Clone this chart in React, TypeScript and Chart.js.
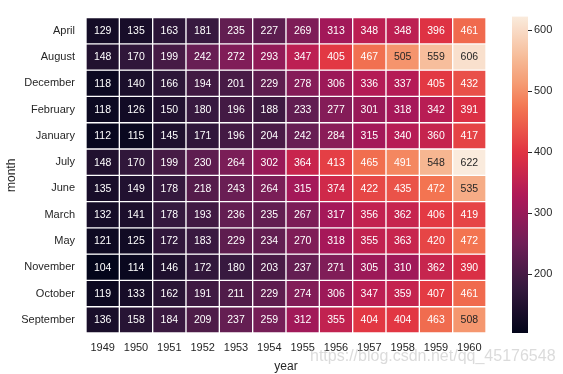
import React, { useEffect, useRef } from "react";
import { Chart, registerables } from "chart.js";

Chart.register(...registerables);

const years = ["1949", "1950", "1951", "1952", "1953", "1954", "1955", "1956", "1957", "1958", "1959", "1960"];
const months = ["April", "August", "December", "February", "January", "July", "June", "March", "May", "November", "October", "September"];

const april = [129, 135, 163, 181, 235, 227, 269, 313, 348, 348, 396, 461];
const august = [148, 170, 199, 242, 272, 293, 347, 405, 467, 505, 559, 606];
const december = [118, 140, 166, 194, 201, 229, 278, 306, 336, 337, 405, 432];
const february = [118, 126, 150, 180, 196, 188, 233, 277, 301, 318, 342, 391];
const january = [112, 115, 145, 171, 196, 204, 242, 284, 315, 340, 360, 417];
const july = [148, 170, 199, 230, 264, 302, 364, 413, 465, 491, 548, 622];
const june = [135, 149, 178, 218, 243, 264, 315, 374, 422, 435, 472, 535];
const march = [132, 141, 178, 193, 236, 235, 267, 317, 356, 362, 406, 419];
const may = [121, 125, 172, 183, 229, 234, 270, 318, 355, 363, 420, 472];
const november = [104, 114, 146, 172, 180, 203, 237, 271, 305, 310, 362, 390];
const october = [119, 133, 162, 191, 211, 229, 274, 306, 347, 359, 407, 461];
const september = [136, 158, 184, 209, 237, 259, 312, 355, 404, 404, 463, 508];

const rows = [april, august, december, february, january, july, june, march, may, november, october, september];
const colorbarTicks = [200, 300, 400, 500, 600];

const rocketStops: [number, number, number, number][] = [
  [0.0, 3, 5, 26],
  [0.143, 53, 25, 62],
  [0.286, 112, 31, 87],
  [0.429, 173, 23, 89],
  [0.571, 225, 51, 66],
  [0.714, 243, 118, 81],
  [0.786, 245, 154, 114],
  [0.857, 246, 182, 145],
  [1.0, 250, 235, 221],
];

function rocket(t: number): [number, number, number] {
  t = Math.max(0, Math.min(1, t));
  for (let i = 1; i < rocketStops.length; i++) {
    const a = rocketStops[i - 1];
    const b = rocketStops[i];
    if (t <= b[0]) {
      const f = (t - a[0]) / (b[0] - a[0]);
      return [a[1] + (b[1] - a[1]) * f, a[2] + (b[2] - a[2]) * f, a[3] + (b[3] - a[3]) * f];
    }
  }
  const l = rocketStops[rocketStops.length - 1];
  return [l[1], l[2], l[3]];
}

const all = rows.flat();
const vmin = Math.min(...all);
const vmax = Math.max(...all);
const norm = (v: number) => (v - vmin) / (vmax - vmin);
const rgb = (c: [number, number, number]) => `rgb(${Math.round(c[0])},${Math.round(c[1])},${Math.round(c[2])})`;
const lum = (c: [number, number, number]) => {
  const f = (x: number) => {
    const s = x / 255;
    return s <= 0.03928 ? s / 12.92 : Math.pow((s + 0.055) / 1.055, 2.4);
  };
  return 0.2126 * f(c[0]) + 0.7152 * f(c[1]) + 0.0722 * f(c[2]);
};

const FONT = "'Liberation Sans', Arial, sans-serif";
const TEXT = "#262626";

const annotPlugin = {
  id: "annot",
  afterDatasetsDraw(chart: any) {
    const ctx = chart.ctx;
    ctx.save();
    ctx.font = `10.5px ${FONT}`;
    ctx.textAlign = "center";
    ctx.textBaseline = "middle";
    chart.data.datasets.forEach((ds: any, di: number) => {
      const meta = chart.getDatasetMeta(di);
      meta.data.forEach((el: any, i: number) => {
        const v = rows[di][i];
        const c = rocket(norm(v));
        ctx.fillStyle = lum(c) > 0.408 ? TEXT : "#ffffff";
        const cx = el.x;
        const cy = (el.y + el.base) / 2;
        ctx.fillText(String(v), cx, cy + 0.5);
      });
    });
    ctx.restore();
  },
  afterDraw(chart: any) {
    const ctx = chart.ctx;
    const area = chart.chartArea;
    const x0 = 512;
    const w = 16;
    const top = area.top - 1;
    const bottom = area.bottom;
    ctx.save();
    const g = ctx.createLinearGradient(0, bottom, 0, top);
    for (let i = 0; i <= 50; i++) {
      g.addColorStop(i / 50, rgb(rocket(i / 50)));
    }
    ctx.fillStyle = g;
    ctx.fillRect(x0, top, w, bottom - top);
    ctx.strokeStyle = TEXT;
    ctx.fillStyle = TEXT;
    ctx.lineWidth = 1;
    ctx.font = `11px ${FONT}`;
    ctx.textAlign = "left";
    ctx.textBaseline = "middle";
    colorbarTicks.forEach((t) => {
      const y = bottom - ((t - vmin) / (vmax - vmin)) * (bottom - top);
      const yy = Math.round(y) + 0.5;
      ctx.beginPath();
      ctx.moveTo(x0 + w, yy);
      ctx.lineTo(x0 + w + 4, yy);
      ctx.stroke();
      ctx.fillText(String(t), x0 + w + 6, y);
    });
    ctx.font = `16px ${FONT}`;
    ctx.fillStyle = "rgba(190,190,190,0.55)";
    ctx.textAlign = "left";
    ctx.fillText("https://blog.csdn.net/qq_45176548", 310, 357);
    ctx.restore();
  },
};

export default function App() {
  const ref = useRef<HTMLCanvasElement | null>(null);
  useEffect(() => {
    if (!ref.current) return;
    const datasets = rows.map((row, r) => ({
      label: months[r],
      data: row.map(() => [r, r + 1]),
      backgroundColor: row.map((v) => rgb(rocket(norm(v)))),
      borderColor: "#ffffff",
      borderWidth: 1,
      borderSkipped: false,
      barPercentage: 1,
      categoryPercentage: 1,
      grouped: false,
    }));
    const chart = new Chart(ref.current, {
      type: "bar",
      data: { labels: years, datasets: datasets as any },
      plugins: [annotPlugin],
      options: {
        animation: false,
        responsive: false,
        maintainAspectRatio: false,
        layout: { padding: { top: 8, right: 77, left: 0, bottom: 0 } },
        plugins: { legend: { display: false }, tooltip: { enabled: false } },
        scales: {
          x: {
            stacked: true,
            grid: { display: false, drawTicks: false },
            border: { display: false },
            ticks: { color: TEXT, font: { family: FONT, size: 11 }, padding: 8, maxRotation: 0 },
            title: { display: true, text: "year", color: TEXT, font: { family: FONT, size: 12 }, padding: { top: 0, bottom: 0 } },
            afterFit: (s: any) => {
              s.height = 41;
            },
          },
          y: {
            type: "linear",
            min: 0,
            max: 12,
            reverse: true,
            grid: { display: false, drawTicks: false },
            border: { display: false },
            afterBuildTicks: (s: any) => {
              s.ticks = months.map((_, i) => ({ value: i + 0.5 }));
            },
            ticks: {
              color: TEXT,
              font: { family: FONT, size: 11 },
              padding: 11,
              callback: (v: any) => months[Math.floor(Number(v))] ?? "",
            },
            title: { display: true, text: "month", color: TEXT, font: { family: FONT, size: 12 }, padding: { top: 4, bottom: 0 } },
            afterFit: (s: any) => {
              s.width = 86;
            },
          },
        },
      },
    });
    return () => chart.destroy();
  }, []);
  return (
    <div style={{ position: "fixed", left: 0, top: 0, width: 563, height: 374, background: "#fff" }}>
      <canvas ref={ref} width={563} height={374} style={{ width: 563, height: 374 }} />
    </div>
  );
}
